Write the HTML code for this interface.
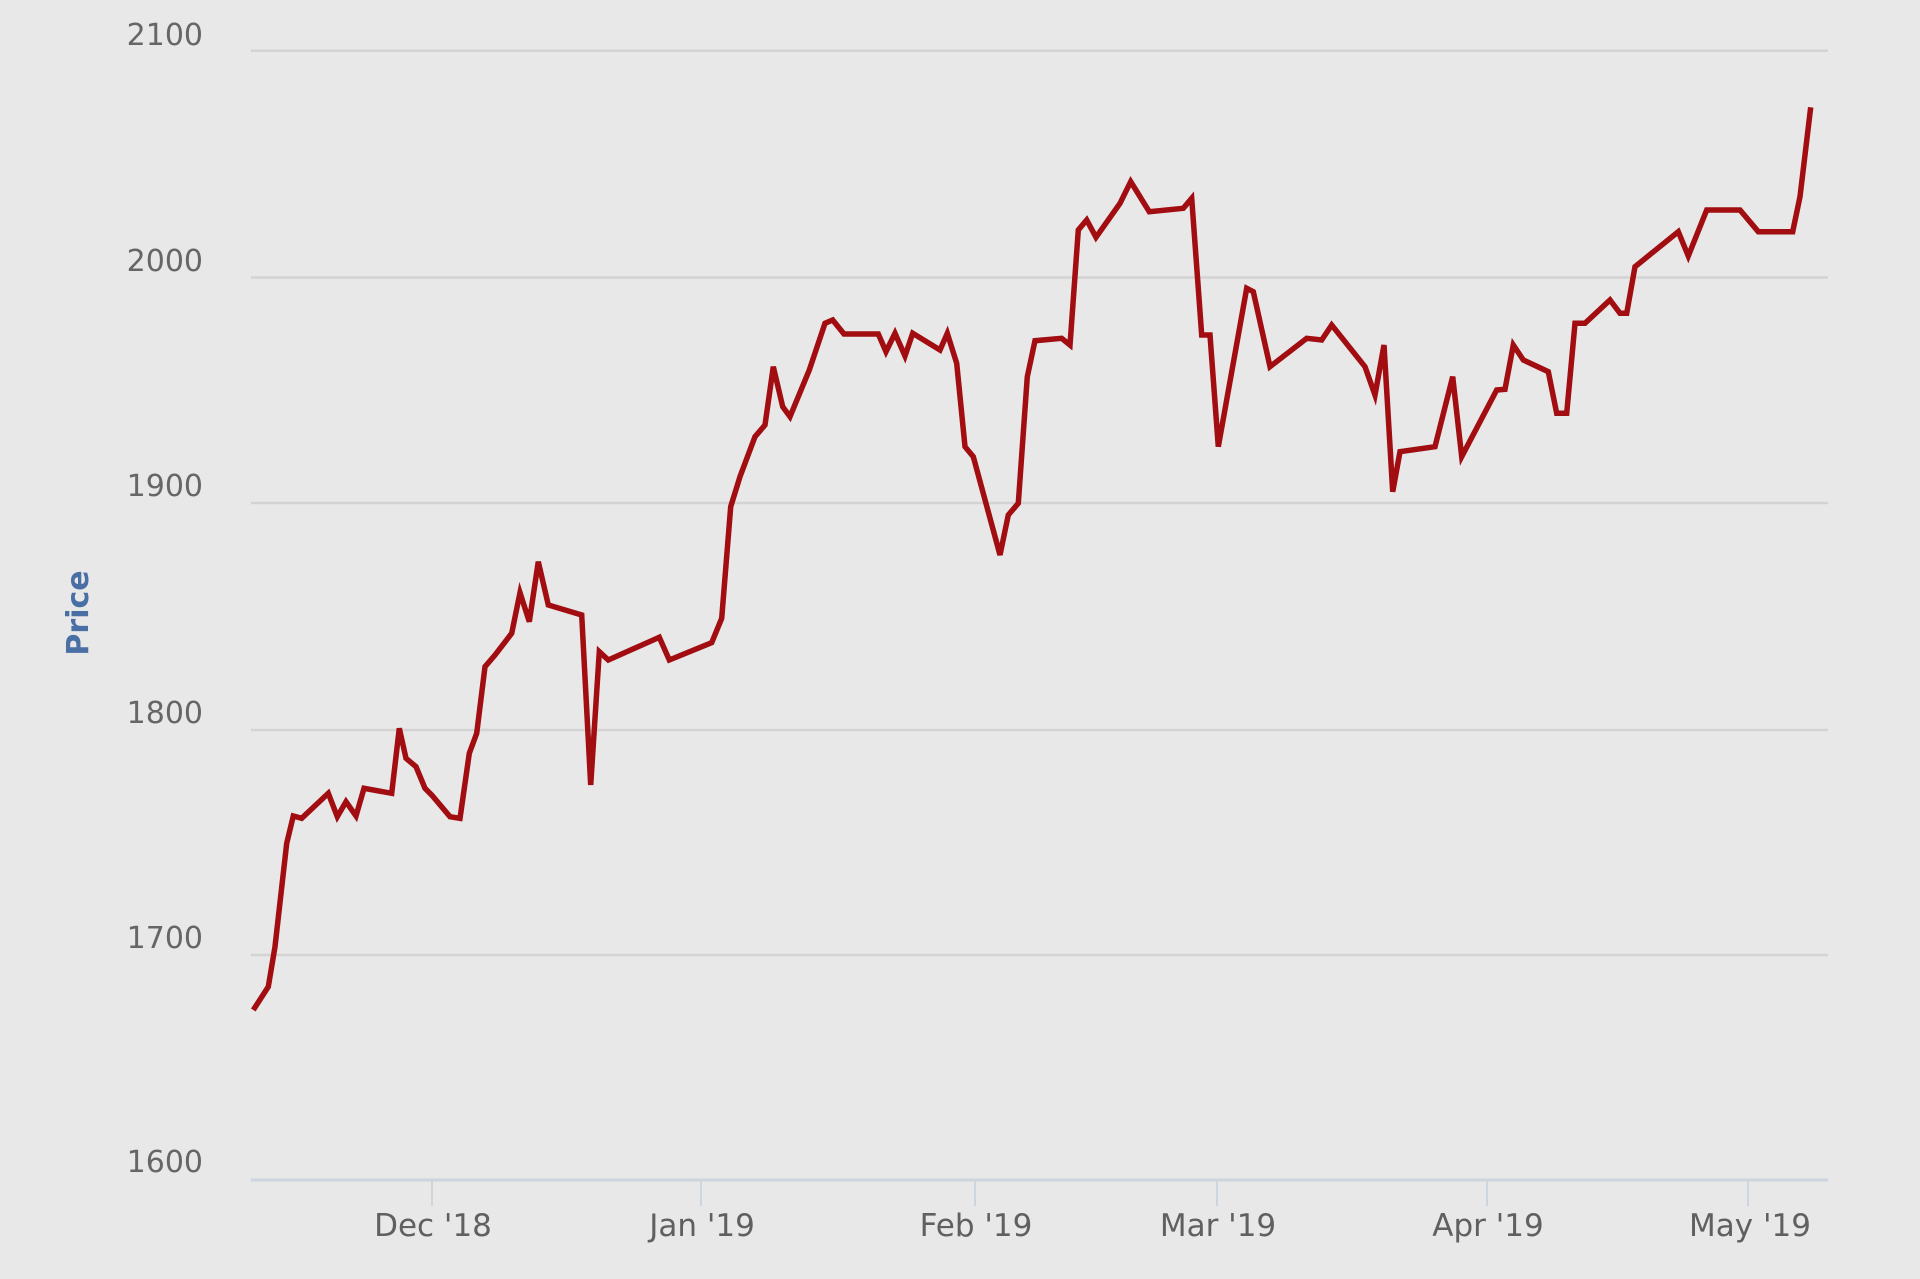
<!DOCTYPE html>
<html>
<head>
<meta charset="utf-8">
<style>
  html, body { margin: 0; padding: 0; background: #e8e8e8; }
  body { width: 1920px; height: 1279px; overflow: hidden; }
  svg { display: block; }
</style>
</head>
<body>
<svg width="1920" height="1279" viewBox="0 0 1920 1279" xmlns="http://www.w3.org/2000/svg">
  <rect x="0" y="0" width="1920" height="1279" fill="#e8e8e8"/>

  <!-- grid lines -->
  <g stroke="#d3d3d3" stroke-width="2.5" fill="none">
    <line x1="251" y1="50.7" x2="1828" y2="50.7"/>
    <line x1="251" y1="277.5" x2="1828" y2="277.5"/>
    <line x1="251" y1="503" x2="1828" y2="503"/>
    <line x1="251" y1="730" x2="1828" y2="730"/>
    <line x1="251" y1="955" x2="1828" y2="955"/>
  </g>

  <!-- x axis line and ticks -->
  <line x1="251" y1="1180" x2="1828" y2="1180" stroke="#cdd5de" stroke-width="3"/>
  <g stroke="#cdd5de" stroke-width="2">
    <line x1="432" y1="1180" x2="432" y2="1206"/>
    <line x1="701" y1="1180" x2="701" y2="1206"/>
    <line x1="975" y1="1180" x2="975" y2="1206"/>
    <line x1="1217" y1="1180" x2="1217" y2="1206"/>
    <line x1="1487" y1="1180" x2="1487" y2="1206"/>
    <line x1="1748" y1="1180" x2="1748" y2="1206"/>
  </g>

  <!-- y axis labels -->
  <g font-family="'DejaVu Sans', 'Liberation Sans', sans-serif" font-size="30" fill="#666666" text-anchor="end">
    <text x="203" y="45">2100</text>
    <text x="203" y="271">2000</text>
    <text x="203" y="496">1900</text>
    <text x="203" y="723">1800</text>
    <text x="203" y="948">1700</text>
    <text x="203" y="1172">1600</text>
  </g>

  <!-- x axis labels -->
  <g font-family="'DejaVu Sans', 'Liberation Sans', sans-serif" font-size="31" fill="#606060" text-anchor="middle">
    <text x="433" y="1236">Dec '18</text>
    <text x="702" y="1236">Jan '19</text>
    <text x="976" y="1236">Feb '19</text>
    <text x="1218" y="1236">Mar '19</text>
    <text x="1488" y="1236">Apr '19</text>
    <text x="1750" y="1236">May '19</text>
  </g>

  <!-- y axis title -->
  <text x="0" y="0" transform="translate(88,613) rotate(-90)" font-family="'DejaVu Sans', 'Liberation Sans', sans-serif" font-size="30" font-weight="bold" fill="#4a6fa5" text-anchor="middle">Price</text>

  <!-- series -->
  <polyline fill="none" stroke="#a10d10" stroke-width="5.5" stroke-linejoin="miter" stroke-miterlimit="4" stroke-linecap="butt"
    points="
253.3,1010 268.3,986.7 275,946.7 286.7,843.3 293.3,816 301.7,818.3 328.3,793.3 337.3,816.7 346,801.7 356,816
364,788.3 391.7,793.3 399.3,728.3 406,758.3 416,766.7 425,788.3 431.7,795 450,816.7 460,818.3 469.3,753.3
476.7,733.3 485,666.7 495,655 511.7,633.3 520,592.7 529.3,621.7 538.3,561.7 548.3,605 581.7,615 590.7,785
599.3,651.7 608.3,660 659.3,637.3 669.3,660 711.7,642.7 721.7,618.3 730.7,506.7 740,476.7 755,436.7 765,425
773.3,366.7 782.7,406.7 790,416.7 809.3,370 825,323.3 832.7,320 844,334 878.3,334 886,351.7 895,333.3
905,356 912.7,333.3 940,350 947.3,333.3 956.7,363.3 965,446.7 973.3,456.7 1000,555 1008.3,515 1018.3,503.3
1027.3,376.7 1035,340.7 1061.7,338.3 1070,345 1078.3,230 1086.7,220 1096,237.3 1120,203.3 1130.7,181.7 1149.3,211.7
1183.3,208.3 1191.7,198.3 1201.7,335 1210,335 1218.3,446.7 1246.7,288.3 1253.3,291.7 1270,366.7 1306.7,338.3 1321.7,340
1331.7,325 1365,366.7 1375,395 1384,345 1392.7,491.7 1400,451.7 1435,446.7 1452.7,376.7 1461.7,456.7 1496.7,390
1505,389.3 1513.3,345 1523.3,360 1548.3,371.7 1556.7,413.3 1566.7,413.3 1575,323.3 1585,323.3 1610,300 1620,313.3
1626.7,313.3 1635,266.7 1678.3,231.7 1688.3,256 1706.7,210 1740,210 1758.3,231.7 1792.7,231.7 1800,196.7 1810.7,107.3"/>
</svg>
</body>
</html>
